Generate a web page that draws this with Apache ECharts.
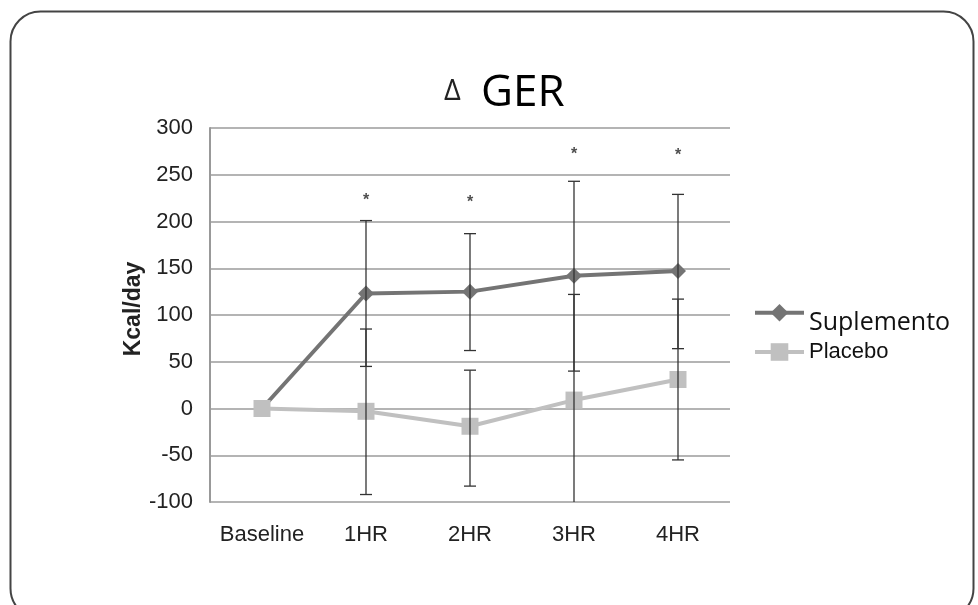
<!DOCTYPE html>
<html>
<head>
<meta charset="utf-8">
<script src="https://cdn.jsdelivr.net/npm/echarts@6/dist/echarts.min.js"></script>
<style>html,body{margin:0;padding:0;background:#fff}#c{width:978px;height:605px}</style>
</head>
<body>
<div id="c"></div>
<script>
const categories = ['Baseline', '1HR', '2HR', '3HR', '4HR'];
const suplemento = [0, 123, 125, 142, 147];
const placebo = [0, -3, -19, 9, 31];
const supHigh = [null, 201, 187, 243, 229];
const supLow = [null, 45, 62, 40, 64];
const plaHigh = [null, 85, 41, 122, 117];
const plaLow = [null, -92, -83, -104, -55];
const starPos = [null, 222, 220, 272, 270];
const yTicks = [-100, -50, 0, 50, 100, 150, 200, 250, 300];

const errData = [];
for (let i = 0; i < categories.length; i++) {
  if (supHigh[i] != null) errData.push([i, supLow[i], supHigh[i]]);
  if (plaHigh[i] != null) errData.push([i, plaLow[i], plaHigh[i]]);
}
const starData = starPos.map((v, i) => v == null ? null : [i, v]).filter(d => d);

const chart = echarts.init(document.getElementById('c'));
chart.setOption({
  animation: false,
  backgroundColor: '#fff',
  graphic: [
    { type: 'rect', left: 8, top: 9, shape: { width: 963, height: 607, r: 30 },
      style: { fill: 'none', stroke: '#444', lineWidth: 2 }, z: -10 },
    { type: 'text', left: 444, top: 77, style: { text: 'Δ', font: '29px "Open Sans"', fill: '#222' } },
    { type: 'text', left: 481, top: 71, style: { text: 'GER', font: '44px "Open Sans"', fill: '#000' } }
  ],
  grid: { left: 210, right: 248, top: 128, bottom: 103 },
  legend: [
    {
      orient: 'vertical', left: 753, top: 304, padding: 0,
      itemWidth: 49, itemHeight: 22,
      lineStyle: { width: 4 },
      data: ['Suplemento'],
      formatter: n => '{a|' + n + '}',
      textStyle: { rich: { a: { fontFamily: 'Open Sans', fontSize: 25, color: '#111', padding: [20, 0, 0, 0] } } }
    },
    {
      orient: 'vertical', left: 753, top: 340, padding: 0,
      itemWidth: 49, itemHeight: 22,
      lineStyle: { width: 4 },
      data: ['Placebo'],
      textStyle: { fontFamily: 'Liberation Sans', fontSize: 22, lineHeight: 24, color: '#111' }
    }
  ],
  xAxis: {
    type: 'category', data: categories, boundaryGap: true,
    axisLine: { show: false }, axisTick: { show: false },
    axisLabel: { interval: 0, fontFamily: 'Liberation Sans', fontSize: 22, color: '#222', margin: 22 }
  },
  yAxis: {
    type: 'value', min: -100, max: 300, interval: 50,
    name: 'Kcal/day', nameLocation: 'middle', nameGap: 65, nameRotate: 90,
    nameMoveOverlap: false,
    nameTextStyle: { fontFamily: 'Liberation Sans', fontSize: 23, fontWeight: 'bold', color: '#222',
      padding: [0, 0, 0, 12] },
    axisLine: { show: true, lineStyle: { color: '#999', width: 2 } },
    axisTick: { show: false },
    axisLabel: { fontFamily: 'Liberation Sans', fontSize: 22, color: '#222', margin: 17,
      formatter: v => yTicks.includes(v) ? String(v) : '' },
    splitLine: { lineStyle: { color: '#b4b4b4', width: 2 } }
  },
  series: [
    {
      name: 'Suplemento', type: 'line', data: suplemento,
      symbol: 'diamond', symbolSize: 16,
      lineStyle: { color: '#747474', width: 4 },
      itemStyle: { color: '#747474' }, z: 3
    },
    {
      name: 'Placebo', type: 'line', data: placebo,
      symbol: 'rect', symbolSize: 17,
      lineStyle: { color: '#c0c0c0', width: 4 },
      itemStyle: { color: '#c0c0c0' }, z: 4
    },
    {
      type: 'custom', data: errData, clip: true, z: 5,
      renderItem: (params, api) => {
        const x = api.value(0);
        const lo = api.coord([x, api.value(1)]);
        const hi = api.coord([x, api.value(2)]);
        const w = 6;
        const st = { stroke: '#333', lineWidth: 1.3 };
        return { type: 'group', children: [
          { type: 'line', shape: { x1: lo[0], y1: lo[1], x2: hi[0], y2: hi[1] }, style: st },
          { type: 'line', shape: { x1: lo[0] - w, y1: lo[1], x2: lo[0] + w, y2: lo[1] }, style: st },
          { type: 'line', shape: { x1: hi[0] - w, y1: hi[1], x2: hi[0] + w, y2: hi[1] }, style: st }
        ]};
      }
    },
    {
      type: 'scatter', data: starData, symbolSize: 0, z: 6,
      label: { show: true, position: 'inside', formatter: '*', fontFamily: 'Liberation Sans',
        fontSize: 16, fontWeight: 'bold', color: '#222' }
    }
  ]
});
</script>
</body>
</html>
